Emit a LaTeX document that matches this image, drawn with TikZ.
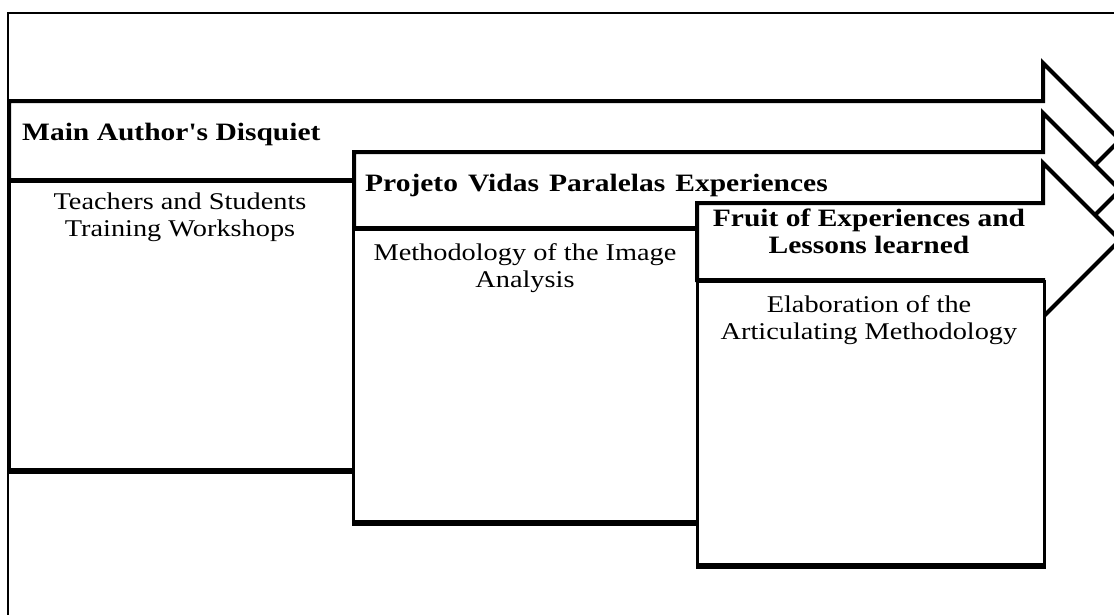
\documentclass[tikz,border=0pt]{standalone}
\usepackage{fontspec}
\setmainfont{Liberation Serif}[FakeStretch=1.18]
\newcommand{\straightq}{{\addfontfeature{Ligatures=TeXOff}'}}
\begin{document}
\begin{tikzpicture}[x=1pt,y=-1pt,line join=miter,
  arrowst/.style={fill=white,draw=black,line width=4},
  boxst/.style={fill=white,draw=black,line width=3,rectangle,inner sep=0,anchor=north west},
  bottomst/.style={line width=5},
  headtxt/.style={inner sep=0,font=\fontsize{25}{27}\selectfont\bfseries,align=center},
  bodytxt/.style={inner sep=0,font=\fontsize{24}{27}\selectfont,align=center,anchor=north}]
\useasboundingbox (0,0) rectangle (1114,614);
\clip (0,0) rectangle (1114,614);
\fill[white] (0,0) rectangle (1114,614);
% outer frame
\draw[line width=2] (8,640) -- (8,13) -- (1140,13);
% arrow 1 and box 1
\draw[arrowst] (9,101) -- (1043,101) -- (1043,63) -- (1120,140) -- (1043,217) -- (1043,180) -- (9,180) -- cycle;
\node[boxst,minimum width=344,minimum height=288] (b1) at (8,180) {};
\draw[bottomst] (b1.south west) -- (b1.south east);
% arrow 2 and box 2
\draw[arrowst] (354,152) -- (1043,152) -- (1043,113) -- (1120,190) -- (1043,267) -- (1043,228) -- (354,228) -- cycle;
\node[boxst,minimum width=344,minimum height=292] (b2) at (352,228) {};
\draw[bottomst] (b2.south west) -- (b2.south east);
% arrow 3 and box 3
\draw[arrowst] (697,203) -- (1043,203) -- (1043,163) -- (1120,240) -- (1043,317) -- (1043,280) -- (697,280) -- cycle;
\node[boxst,minimum width=347,minimum height=283] (b3) at (696,280) {};
\draw[bottomst] (b3.south west) -- (b3.south east);
% texts
\node[headtxt,anchor=base west] (t1) at (22,140) {Main Author\straightq s Disquiet};
\node[headtxt,anchor=base west] (t2) at (365,191) {\spaceskip=0.4em Projeto Vidas Paralelas Experiences};
\node[headtxt,anchor=north] (t3) at (869,209) {Fruit of Experiences and\\Lessons learned};
\node[bodytxt] (d1) at (180,193) {Teachers and Students\\Training Workshops};
\node[bodytxt] (d2) at (525,243) {Methodology of the Image\\Analysis};
\node[bodytxt] (d3) at (869,295) {Elaboration of the\\Articulating Methodology};
\end{tikzpicture}
\end{document}
